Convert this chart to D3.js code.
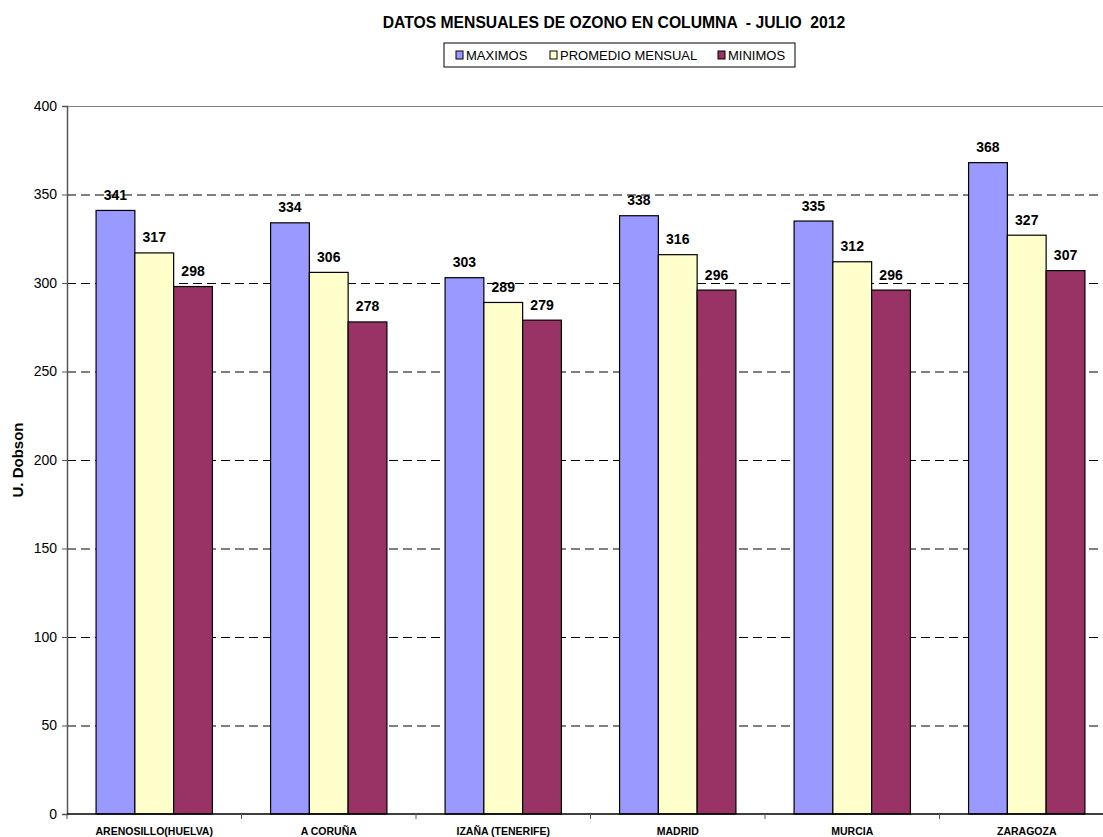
<!DOCTYPE html>
<html>
<head>
<meta charset="utf-8">
<script src="https://cdn.jsdelivr.net/npm/d3@7"></script>
<style>
  body { margin: 0; background: #fff; overflow: hidden; }
  svg { font-family: "Liberation Sans", Arial, sans-serif; }
</style>
</head>
<body>
<div id="chart"></div>
<script>
// data
var stations = ["ARENOSILLO(HUELVA)", "A CORUÑA", "IZAÑA (TENERIFE)", "MADRID", "MURCIA", "ZARAGOZA"];
var maximos = [341, 334, 303, 338, 335, 368];
var promedio = [317, 306, 289, 316, 312, 327];
var minimos = [298, 278, 279, 296, 296, 307];
var seriesNames = ["MAXIMOS", "PROMEDIO MENSUAL", "MINIMOS"];
var seriesColors = ["#9999ff", "#ffffcc", "#993366"];
var yTicks = [0, 50, 100, 150, 200, 250, 300, 350, 400];

var W = 1103, H = 837;
var margin = {top: 106, left: 67, bottom: 23};
var plotW = 1047; // plot runs past the right edge, as in the original
var plotH = H - margin.top - margin.bottom;

var svg = d3.select("#chart").append("svg")
  .attr("width", W).attr("height", H);

var g = svg.append("g")
  .attr("transform", "translate(" + margin.left + "," + margin.top + ")");

var x = d3.scaleBand().domain(stations).range([0, plotW]);
var x1 = d3.scaleBand().domain(seriesNames)
  .range([0, x.bandwidth()]).paddingOuter(0.75).paddingInner(0);
var y = d3.scaleLinear().domain([0, 400]).range([plotH, 0]);

var table = stations.map(function(s, i) {
  return {station: s, values: [maximos[i], promedio[i], minimos[i]]};
});

// grid lines
g.selectAll(".grid").data(yTicks.filter(function(d) { return d > 0; }))
  .enter().append("line")
  .attr("x1", 0).attr("x2", plotW)
  .attr("y1", function(d) { return y(d) + 0.5; })
  .attr("y2", function(d) { return y(d) + 0.5; })
  .attr("stroke", function(d) { return d == 400 ? "#808080" : "#000"; })
  .attr("stroke-width", 1)
  .attr("stroke-dasharray", function(d) { return d == 400 ? null : "9,5"; });

// bars
var groups = g.selectAll(".grp").data(table).enter().append("g")
  .attr("transform", function(d) { return "translate(" + x(d.station) + ",0)"; });

groups.selectAll("rect").data(function(d) { return d.values; })
  .enter().append("rect")
  .attr("x", function(d, i) { return x1(seriesNames[i]); })
  .attr("y", function(d) { return y(d); })
  .attr("width", x1.bandwidth())
  .attr("height", function(d) { return y(0) - y(d); })
  .attr("fill", function(d, i) { return seriesColors[i]; })
  .attr("stroke", "#000")
  .attr("stroke-width", 1.2);

groups.selectAll(".val").data(function(d) { return d.values; })
  .enter().append("text")
  .attr("x", function(d, i) { return x1(seriesNames[i]) + x1.bandwidth() / 2; })
  .attr("y", function(d) { return y(d) - 10.5; })
  .attr("text-anchor", "middle")
  .attr("font-size", "14px")
  .attr("font-weight", "bold")
  .text(function(d) { return d; });

// y axis
var yAxis = g.append("g")
  .call(d3.axisLeft(y).tickValues(yTicks).tickSize(5).tickPadding(5));
yAxis.select(".domain").attr("stroke", "#555").attr("stroke-width", 1.5);
yAxis.selectAll(".tick line").attr("stroke", "#555");
yAxis.selectAll("text").attr("font-size", "14px").attr("fill", "#000")
  .attr("font-family", "Liberation Sans, Arial, sans-serif");

// x axis
var xAxis = g.append("g").attr("transform", "translate(0," + plotH + ")");
xAxis.append("line").attr("x1", 0).attr("x2", plotW)
  .attr("stroke", "#000").attr("stroke-width", 1.5);
xAxis.selectAll(".tk").data(stations).enter().append("line")
  .attr("x1", function(d) { return x(d); })
  .attr("x2", function(d) { return x(d); })
  .attr("y1", 0).attr("y2", 5)
  .attr("stroke", "#555");
xAxis.selectAll(".lbl").data(stations).enter().append("text")
  .attr("x", function(d) { return x(d) + x.bandwidth() / 2; })
  .attr("y", 21)
  .attr("text-anchor", "middle")
  .attr("font-size", "10.5px")
  .attr("font-weight", "bold")
  .text(function(d) { return d; });

// y title
svg.append("text")
  .attr("transform", "translate(23," + (margin.top + plotH / 2) + ") rotate(-90)")
  .attr("text-anchor", "middle")
  .attr("font-size", "15px")
  .attr("font-weight", "bold")
  .text("U. Dobson");

// title
svg.append("text")
  .attr("x", 614).attr("y", 28)
  .attr("text-anchor", "middle")
  .attr("font-size", "15.7px")
  .attr("font-weight", "bold")
  .style("white-space", "pre")
  .text("DATOS MENSUALES DE OZONO EN COLUMNA  - JULIO  2012");

// legend
var leg = svg.append("g").attr("transform", "translate(444,43)");
leg.append("rect").attr("width", 351).attr("height", 24)
  .attr("fill", "#fff").attr("stroke", "#000").attr("stroke-width", 1);
var legX = [12, 106, 274];
seriesNames.forEach(function(name, i) {
  var it = leg.append("g").attr("transform", "translate(" + legX[i] + ",8)");
  it.append("rect").attr("width", 7).attr("height", 8)
    .attr("fill", seriesColors[i]).attr("stroke", "#000").attr("stroke-width", 1);
  it.append("text").attr("x", 10).attr("y", 9)
    .attr("font-size", "13px")
    .text(name);
});
</script>
</body>
</html>
